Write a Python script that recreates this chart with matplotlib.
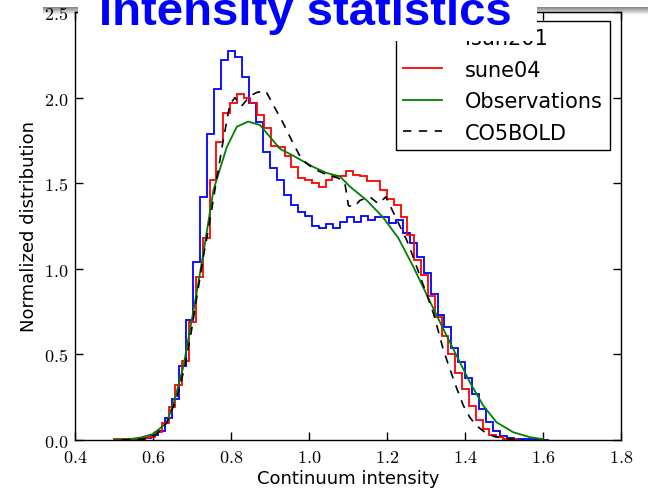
import numpy as np
import matplotlib
matplotlib.use('Agg')
import matplotlib.pyplot as plt
from matplotlib.patches import Rectangle
from matplotlib.lines import Line2D
from matplotlib.ticker import FuncFormatter

# histogram lsun201 (blue): first bin edge and bin width, then bin heights
lsun_start = 0.524
lsun_width = 0.0179
lsun_vals = [0.002, 0.003, 0.005, 0.01, 0.03, 0.05, 0.13, 0.24, 0.43, 0.70,
             1.04, 1.42, 1.79, 2.05, 2.22, 2.27, 2.24, 2.12, 1.97, 1.86,
             1.68, 1.59, 1.52, 1.43, 1.37, 1.33, 1.31, 1.25, 1.24, 1.26,
             1.24, 1.275, 1.30, 1.275, 1.31, 1.285, 1.30, 1.30, 1.27, 1.285,
             1.21, 1.15, 1.07, 0.975, 0.85, 0.73, 0.66, 0.54, 0.455, 0.36,
             0.27, 0.18, 0.106, 0.054, 0.025, 0.012, 0.006, 0.004, 0.003, 0.002,
             0.001]

# histogram sune04 (red)
sune_start = 0.500
sune_width = 0.0175
sune_vals = [0.003, 0.004, 0.005, 0.006, 0.01, 0.017, 0.048, 0.10, 0.19, 0.32,
             0.46, 0.69, 0.95, 1.18, 1.52, 1.74, 1.91, 1.97, 2.02, 2.00,
             1.97, 1.90, 1.82, 1.72, 1.71, 1.66, 1.595, 1.53, 1.52, 1.50,
             1.48, 1.52, 1.54, 1.54, 1.57, 1.55, 1.54, 1.51, 1.51, 1.46,
             1.41, 1.37, 1.30, 1.20, 1.05, 0.965, 0.84, 0.72, 0.61, 0.50,
             0.39, 0.30, 0.196, 0.118, 0.064, 0.029, 0.015, 0.006, 0.003]

# observations (green)
obs_x = [0.50, 0.54, 0.57, 0.60, 0.635, 0.656, 0.678, 0.695, 0.712, 0.729,
         0.755, 0.789, 0.815, 0.844, 0.874, 0.90, 0.926, 0.96, 1.011, 1.045,
         1.079, 1.105, 1.148, 1.19, 1.229, 1.268, 1.31, 1.344, 1.379, 1.413,
         1.447, 1.481, 1.524, 1.567, 1.60]
obs_y = [0.0, 0.005, 0.015, 0.035, 0.10, 0.24, 0.43, 0.645, 0.86, 1.09,
         1.46, 1.71, 1.83, 1.86, 1.84, 1.77, 1.70, 1.66, 1.595, 1.56,
         1.54, 1.48, 1.40, 1.30, 1.18, 1.01, 0.81, 0.65, 0.49, 0.335,
         0.20, 0.103, 0.045, 0.016, 0.005]

# CO5BOLD (black dashed)
cob_x = [0.52, 0.58, 0.61, 0.635, 0.66, 0.682, 0.699, 0.712, 0.729, 0.742,
         0.763, 0.78, 0.797, 0.81, 0.827, 0.849, 0.866, 0.889, 0.91, 0.934,
         0.96, 0.981, 1.011, 1.045, 1.075, 1.092, 1.101, 1.114, 1.131, 1.156,
         1.178, 1.197, 1.214, 1.233, 1.25, 1.267, 1.285, 1.302, 1.319, 1.336,
         1.344, 1.362, 1.379, 1.396, 1.413, 1.43, 1.451, 1.473, 1.498, 1.52,
         1.55]
cob_y = [0.0, 0.005, 0.035, 0.10, 0.24, 0.43, 0.645, 0.83, 1.07, 1.23,
         1.52, 1.75, 1.96, 2.0, 1.95, 2.01, 2.03, 2.04, 1.95, 1.85,
         1.73, 1.64, 1.585, 1.55, 1.53, 1.50, 1.37, 1.36, 1.40, 1.42,
         1.38, 1.42, 1.34, 1.25, 1.17, 1.07, 0.955, 0.85, 0.74, 0.60,
         0.53, 0.41, 0.30, 0.20, 0.13, 0.083, 0.045, 0.022, 0.01, 0.005,
         0.0]

labels = ['lsun201', 'sune04', 'Observations', 'CO5BOLD']

plt.rcParams['mathtext.fontset'] = 'cm'

fig = plt.figure(figsize=(6.48, 4.89), dpi=100)
W, H = 648.0, 489.0
ax = fig.add_axes([75 / W, 48 / H, 546 / W, 428 / H])

lsun_edges = lsun_start + lsun_width * np.arange(len(lsun_vals) + 1)
sune_edges = sune_start + sune_width * np.arange(len(sune_vals) + 1)
ax.stairs(lsun_vals, lsun_edges, color='#0000ff', lw=1.3)
ax.stairs(sune_vals, sune_edges, color='#ff0000', lw=1.3)
ax.plot(obs_x, obs_y, color='#008000', lw=1.3)
ax.plot(cob_x, cob_y, color='k', lw=1.2, dashes=(5, 4.5))

ax.set_xlim(0.4, 1.8)
ax.set_ylim(0, 2.5)
ax.set_xticks(np.arange(0.4, 1.81, 0.2))
ax.set_yticks(np.arange(0, 2.51, 0.5))
fmt = FuncFormatter(lambda v, p: r'$%.1f$' % v)
ax.xaxis.set_major_formatter(fmt)
ax.yaxis.set_major_formatter(fmt)
ax.tick_params(direction='in', top=True, right=True, length=5.5, width=1,
               labelsize=13)
ax.tick_params(axis='x', pad=6)
ax.tick_params(axis='y', pad=5)
for s in ax.spines.values():
    s.set_linewidth(1.0)

ax.set_xlabel('Continuum intensity', fontsize=13, labelpad=2)
ax.set_ylabel('Normalized distribution', fontsize=13, labelpad=4)

handles = [Line2D([], [], color='#0000ff', lw=1.3),
           Line2D([], [], color='#ff0000', lw=1.3),
           Line2D([], [], color='#008000', lw=1.3),
           Line2D([], [], color='k', lw=1.2, dashes=(5, 4.5))]
leg = ax.legend(handles, labels, loc='upper right', fontsize=15,
                bbox_to_anchor=(0.98, 0.979), borderaxespad=0,
                fancybox=False, framealpha=1, edgecolor='k',
                borderpad=0.35, labelspacing=0.55,
                handlelength=1.85, handletextpad=1.1)
leg.get_frame().set_linewidth(1.0)

# screenshot overlay: shadow band along the top and the title box
shadow = fig.add_axes([43 / W, 1 - 16 / H, 1 - 43 / W, 8 / H], zorder=4)
grad = np.zeros((20, 2, 4))
grad[:, :, 3] = np.linspace(0.55, 0.0, 20)[:, None]
shadow.imshow(grad, aspect='auto', extent=(0, 1, 0, 1), interpolation='bilinear')
shadow.axis('off')

fig.add_artist(Rectangle((78 / W, 1 - 42 / H), (537 - 78) / W, 42 / H,
                         transform=fig.transFigure, facecolor='white',
                         edgecolor='none', zorder=5))
fig.text(99 / W, 1 - 25 / H, 'Intensity statistics', color='#0000ff',
         fontsize=34, fontweight='bold', family='Liberation Sans',
         va='baseline', ha='left', zorder=6)

plt.savefig('out.png', dpi=100)
plt.close()
